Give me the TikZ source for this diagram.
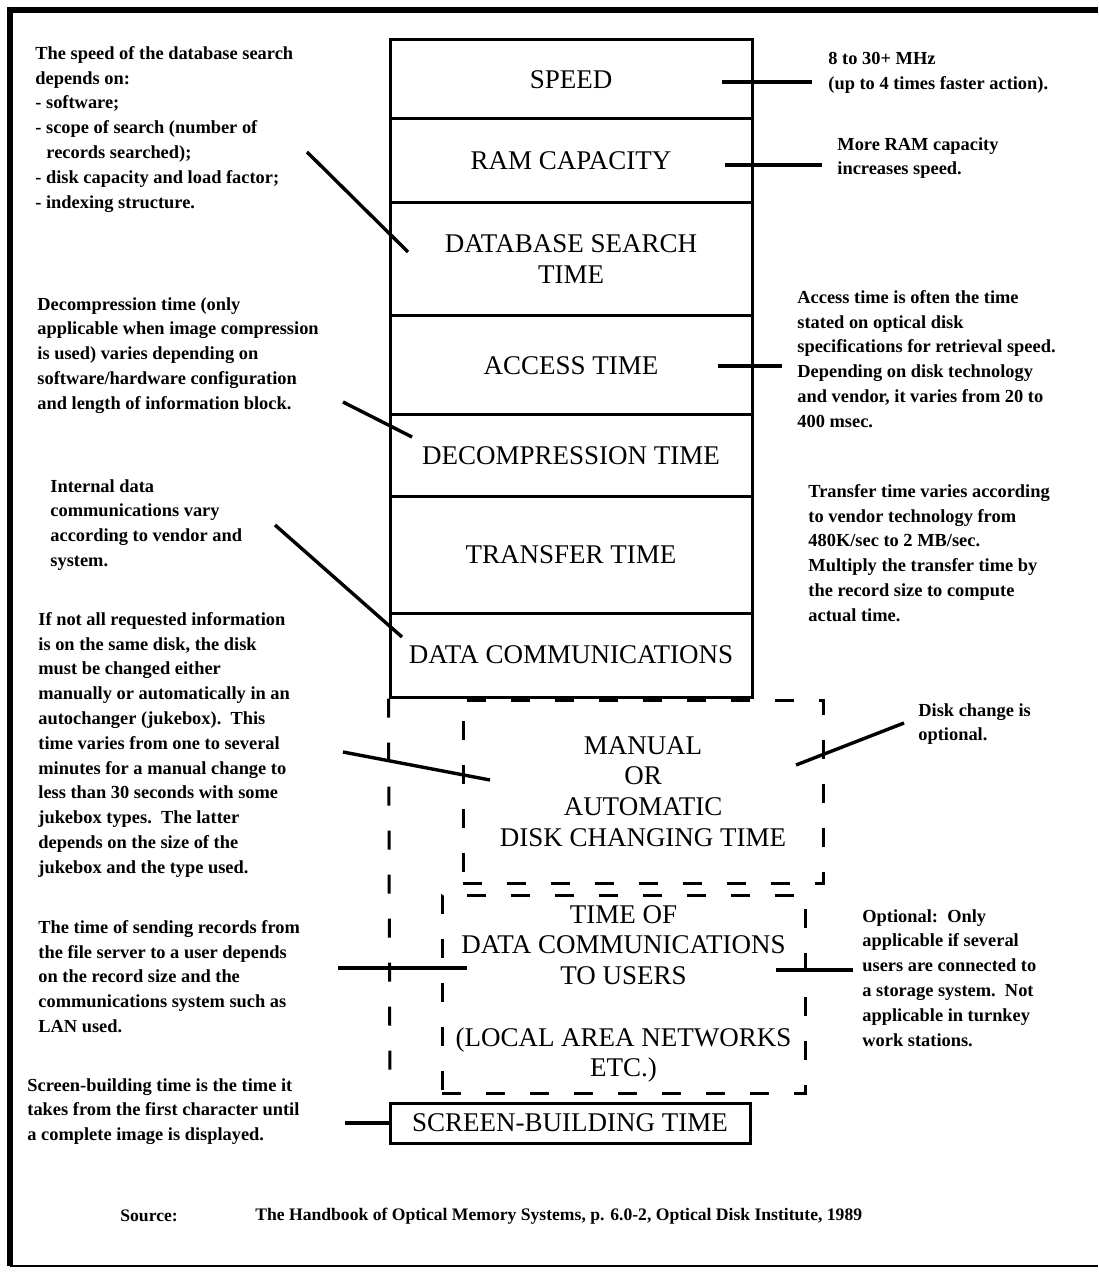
\documentclass[tikz,border=0pt]{standalone}
\usepackage{fontspec}
\setmainfont{Liberation Serif}
\usepackage{tikz}
\tikzset{
  row/.style={draw, line width=1.5pt, minimum width=181pt, inner sep=0pt,
              align=center, font=\fontsize{13.5}{15.5}\selectfont},
  dshbox/.style={draw, line width=1.5pt, dash pattern=on 9.5pt off 12.5pt,
                 inner sep=0pt, align=center, font=\fontsize{13.5}{15.3}\selectfont},
  note/.style={anchor=north west, inner sep=0pt, align=left,
               font=\bfseries\fontsize{9.2}{12.4}\selectfont},
  lead/.style={line width=1.7pt},
  dsh/.style={line width=1.5pt, dash pattern=on 9.5pt off 12.5pt}
}

\begin{document}
\begin{tikzpicture}[x=0.5pt, y=-0.5pt]
  \useasboundingbox (0,0) rectangle (1098,1277);
  \draw[line width=3pt] (1098,10) -- (10,10) -- (10,1266);
  \draw[line width=1pt] (10,1266) -- (1098,1266);

  \node[row, minimum height=39.5pt] (speed) at (571,79.5) {SPEED};
  \node[row, minimum height=42pt] (ram) at (571,161) {RAM CAPACITY};
  \node[row, minimum height=56.5pt] (search) at (571,259.5) {DATABASE SEARCH\\TIME};
  \node[row, minimum height=49.5pt] (access) at (571,365.5) {ACCESS TIME};
  \node[row, minimum height=41pt] (decomp) at (571,456) {DECOMPRESSION TIME};
  \node[row, minimum height=58pt] (transfer) at (571,555) {TRANSFER TIME};
  \node[row, minimum height=42pt] (comm) at (571,655) {DATA COMMUNICATIONS};

  \node[dshbox, minimum width=180pt, minimum height=91.5pt] (change) at (643,791.5)
    {MANUAL\\OR\\AUTOMATIC\\DISK CHANGING TIME};
  \node[dshbox, minimum width=181.5pt, minimum height=99pt] (users) at (623.5,994)
    {TIME OF\\DATA COMMUNICATIONS\\TO USERS\\[15.5pt](LOCAL AREA NETWORKS\\ETC.)};
  \node[row, minimum width=180pt, minimum height=20pt] (screen) at (570,1123)
    {SCREEN-BUILDING TIME};
  \coordinate (dshend) at (390,1093);
  \draw[dsh] (comm.south west) -- (dshend);

  \node[note] (searchnote) at (35,46) {The speed of the database search\\depends on:\\- software;\\- scope of search (number of\\\hspace*{0.6em}records searched);\\- disk capacity and load factor;\\- indexing structure.};
  \node[note] (decompnote) at (37,297) {Decompression time (only\\applicable when image compression\\is used) varies depending on\\software/hardware configuration\\and length of information block.};
  \node[note] (commnote) at (50,479) {Internal data\\communications vary\\according to vendor and\\system.};
  \node[note] (changenote) at (38,612) {If not all requested information\\is on the same disk, the disk\\must be changed either\\manually or automatically in an\\autochanger (jukebox).\ \ This\\time varies from one to several\\minutes for a manual change to\\less than 30 seconds with some\\jukebox types.\ \ The latter\\depends on the size of the\\jukebox and the type used.};
  \node[note] (usersnote) at (38,920) {The time of sending records from\\the file server to a user depends\\on the record size and the\\communications system such as\\LAN used.};
  \node[note] (screennote) at (27,1078) {Screen-building time is the time it\\takes from the first character until\\a complete image is displayed.};

  \node[note] (speednote) at (828,52) {8 to 30+ MHz\\(up to 4 times faster action).};
  \node[note] (ramnote) at (837,137) {More RAM capacity\\increases speed.};
  \node[note] (accessnote) at (797,290) {Access time is often the time\\stated on optical disk\\specifications for retrieval speed.\\Depending on disk technology\\and vendor, it varies from 20 to\\400 msec.};
  \node[note] (transfernote) at (808,484) {Transfer time varies according\\to vendor technology from\\480K/sec to 2 MB/sec.\\Multiply the transfer time by\\the record size to compute\\actual time.};
  \node[note] (disknote) at (918,703) {Disk change is\\optional.};
  \node[note] (optnote) at (862,909) {Optional:\ \ Only\\applicable if several\\users are connected to\\a storage system.\ \ Not\\applicable in turnkey\\work stations.};

  \node[note, anchor=west, font=\bfseries\fontsize{8.8}{11}\selectfont] (srclbl) at (120,1216) {Source:};
  \node[note, anchor=west, font=\bfseries\fontsize{8.8}{11}\selectfont] (srctext) at (255,1216) {The Handbook of Optical Memory Systems, p. 6.0-2, Optical Disk Institute, 1989};

  \coordinate (speedA) at (722,82);   \coordinate (speedB) at (812,82);
  \coordinate (ramA) at (725,165);    \coordinate (ramB) at (822,165);
  \coordinate (searchA) at (307,152); \coordinate (searchB) at (408,252);
  \coordinate (accessA) at (718,366); \coordinate (accessB) at (782,366);
  \coordinate (decompA) at (343,402); \coordinate (decompB) at (412,437);
  \coordinate (commA) at (275,525);   \coordinate (commB) at (402,637);
  \coordinate (changeA) at (343,752); \coordinate (changeB) at (490,780);
  \coordinate (diskA) at (796,765);   \coordinate (diskB) at (904,723);
  \coordinate (usersA) at (338,968);  \coordinate (usersB) at (467,968);
  \coordinate (optA) at (776,970);    \coordinate (optB) at (853,970);
  \coordinate (screenA) at (345,1123);
  \draw[lead] (speedA) -- (speedB);
  \draw[lead] (ramA) -- (ramB);
  \draw[lead] (searchA) -- (searchB);
  \draw[lead] (accessA) -- (accessB);
  \draw[lead] (decompA) -- (decompB);
  \draw[lead] (commA) -- (commB);
  \draw[lead] (changeA) -- (changeB);
  \draw[lead] (diskA) -- (diskB);
  \draw[lead] (usersA) -- (usersB);
  \draw[lead] (optA) -- (optB);
  \draw[lead] (screenA) -- (screen.west);
\end{tikzpicture}
\end{document}
